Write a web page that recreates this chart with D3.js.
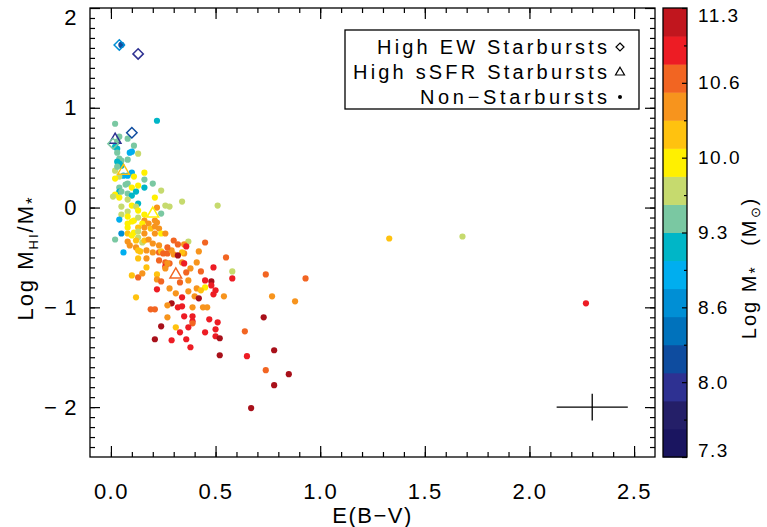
<!DOCTYPE html>
<html>
<head>
<meta charset="utf-8">
<script src="https://cdn.jsdelivr.net/npm/d3@7"></script>
<style>
  body { margin: 0; background: #fff; }
  text { font-family: "Liberation Sans", Arial, sans-serif; fill: #000; }
</style>
</head>
<body>
<div id="chart"></div>
<script>
// non-starbursts: E(B-V), log MHI/M*, log M*
var nsX = [0.05,0.22,0.02,0.03,0.04,0.08,0.11,0.02,0.03,0.09,0.10,0.13,0.03,0.04,0.05,0.03,0.08,0.04,0.05,0.02,
  0.03,0.10,0.16,0.06,0.08,0.11,0.04,0.02,0.16,0.08,0.07,0.13,0.20,0.16,0.04,0.10,0.24,0.21,0.04,0.05,
  0.08,0.12,0.10,0.02,0.04,0.01,0.08,0.13,0.10,0.05,0.12,0.13,0.08,0.05,0.24,0.26,0.16,0.04,0.08,0.11,
  0.13,0.16,0.18,0.10,0.15,0.21,0.08,0.13,0.08,0.16,0.19,0.21,0.23,0.05,0.02,0.08,0.11,0.10,0.13,0.16,
  0.13,0.15,0.16,0.18,0.21,0.24,0.26,0.08,0.09,0.12,0.20,0.23,0.30,0.06,0.12,0.13,0.14,0.17,0.20,0.23,
  0.24,0.25,0.27,0.29,0.17,0.13,0.23,0.26,0.28,0.26,0.22,0.28,0.34,0.51,0.22,0.32,0.37,0.45,0.35,0.36,
  0.27,0.35,0.34,0.30,0.42,0.32,0.27,0.34,0.35,0.41,0.55,0.49,0.38,0.43,0.36,0.26,0.17,0.58,0.58,0.13,
  0.15,0.10,0.22,0.22,0.24,0.37,0.33,0.45,0.48,0.48,0.50,0.49,0.54,0.45,0.41,0.43,0.37,0.28,0.31,0.22,
  0.12,0.40,0.34,0.42,0.29,0.27,0.32,0.34,0.39,0.44,0.46,0.19,0.21,0.27,0.35,0.39,0.39,0.39,0.47,0.51,
  0.24,0.31,0.37,0.50,0.45,0.33,0.50,0.52,0.36,0.21,0.29,0.38,0.52,0.64,0.65,0.73,0.74,0.77,0.78,0.74,
  0.78,0.85,0.88,0.93,0.67,1.33,1.68,2.27];
var nsY = [1.63,0.87,0.84,0.66,0.71,0.69,0.62,0.61,0.59,0.55,0.56,0.54,0.55,0.49,0.47,0.46,0.48,0.44,0.42,0.37,
  0.41,0.35,0.35,0.32,0.32,0.31,0.31,0.29,0.28,0.24,0.23,0.22,0.24,0.20,0.20,0.20,0.17,0.10,0.16,0.16,
  0.14,0.16,0.12,0.13,0.10,0.11,0.08,0.04,0.02,0.01,0.01,-0.03,-0.04,-0.07,-0.06,0.02,-0.07,-0.12,-0.09,-0.13,
  -0.10,-0.13,-0.16,-0.14,-0.16,-0.13,-0.16,-0.20,-0.20,-0.20,-0.21,-0.19,-0.21,-0.26,-0.32,-0.26,-0.25,-0.28,-0.24,-0.26,
  -0.30,-0.35,-0.33,-0.32,-0.26,-0.26,-0.26,-0.34,-0.38,-0.33,-0.36,-0.38,-0.33,-0.45,-0.40,-0.43,-0.44,-0.43,-0.45,-0.45,
  -0.44,-0.46,-0.46,-0.43,-0.51,-0.51,-0.53,-0.55,-0.56,-0.59,0.00,0.01,0.06,0.02,-0.15,-0.37,-0.34,-0.35,-0.37,-0.39,
  -0.40,-0.46,-0.45,-0.47,-0.44,-0.48,-0.56,-0.55,-0.56,-0.55,-0.50,-0.60,-0.61,-0.64,-0.65,-0.61,-0.60,-0.64,-0.71,-0.70,
  -0.66,-0.68,-0.67,-0.72,-0.74,-0.73,-0.75,-0.73,-0.74,-0.78,-0.83,-0.87,-0.89,-0.80,-0.81,-0.83,-0.84,-0.81,-0.86,-0.82,
  -0.90,-0.89,-0.90,-0.91,-0.96,-0.98,-1.00,-0.99,-1.00,-1.00,-1.00,-1.02,-1.02,-1.10,-1.09,-1.09,-1.14,-1.16,-1.12,-1.15,
  -1.19,-1.20,-1.20,-1.22,-1.25,-1.25,-1.29,-1.31,-1.32,-1.32,-1.33,-1.40,-1.48,-1.24,-1.49,-1.10,-0.67,-0.89,-1.43,-1.63,
  -1.78,-1.67,-0.94,-0.71,-2.01,-0.31,-0.29,-0.96];
var nsM = [8.2,9.2,9.4,9.4,9.4,9.4,9.4,9.2,9.2,8.9,8.9,9.7,9.4,9.4,9.4,9.2,9.4,9.2,9.2,9.7,
  9.4,8.9,9.9,8.9,8.9,9.9,9.7,9.9,9.4,9.4,9.4,9.9,9.4,9.2,9.4,9.9,9.7,9.9,9.2,9.4,
  9.4,9.2,9.2,9.9,9.9,9.7,9.7,9.2,9.9,9.7,9.7,9.9,9.7,9.7,9.4,9.7,9.9,8.9,9.9,9.9,
  9.7,10.4,10.4,9.9,9.9,10.4,9.9,10.2,9.9,10.4,10.2,10.4,10.4,8.7,9.4,10.2,9.9,9.9,9.7,10.4,
  9.7,9.7,10.2,10.4,10.4,9.9,10.4,10.4,10.4,10.2,10.4,10.4,10.7,8.9,10.4,10.2,10.2,10.4,10.4,10.7,
  10.2,10.7,10.7,10.4,10.4,10.2,10.7,10.7,10.7,10.9,10.4,9.7,9.7,9.7,10.4,10.7,9.7,10.7,10.4,10.9,
  10.7,10.4,10.2,10.4,10.4,11.2,10.4,10.4,10.9,10.4,10.7,10.9,10.4,10.7,10.7,10.4,10.2,9.7,10.9,10.7,
  10.4,10.2,10.2,10.4,10.7,10.4,10.7,10.9,11.2,10.9,10.9,10.9,10.4,9.9,10.4,10.2,10.4,10.4,10.4,10.9,
  10.2,10.4,10.9,11.2,11.2,10.4,10.9,10.9,10.4,10.4,10.4,10.7,10.7,10.4,10.9,10.9,10.9,10.7,10.9,10.9,
  11.2,10.2,10.9,10.9,10.9,10.9,10.9,11.2,10.9,11.2,10.9,10.9,11.2,10.7,10.9,11.2,10.7,10.4,11.2,10.7,
  11.2,11.2,10.4,10.7,11.2,10.1,9.7,10.9];

// high EW starbursts (diamonds)
var ewX = [0.04,0.13,0.10,0.01];
var ewY = [1.63,1.54,0.75,0.64];
var ewM = [8.6,7.9,8.2,9.4];

// high sSFR starbursts (triangles)
var ssX = [0.02,0.06,0.20,0.31];
var ssY = [0.68,0.37,-0.06,-0.67];
var ssM = [7.9,10.1,9.9,10.7];

// typical error bar
var errX = [2.3], errY = [-2.0], errDX = [0.17], errDY = [0.135];

var xTicks = [0, 0.5, 1.0, 1.5, 2.0, 2.5];
var yTicks = [-2, -1, 0, 1, 2];
var cbLabels = ["7.3", "8.0", "8.6", "9.3", "10.0", "10.6", "11.3"];
var legendLabels = ["High EW Starbursts", "High sSFR Starbursts", "Non\u2212Starbursts"];

// 16 colour bands, low mass to high mass
var barColors = ["#1a1560", "#241f68", "#2e3192", "#0e4c9f", "#0072bc", "#008fd5", "#00aeef", "#00b6c7",
  "#7ac8a2", "#c6da6e", "#fff000", "#ffc20f", "#f7941d", "#f26522", "#ed1c24", "#c1161e"];

var W = 767, H = 527;
var plot = {left: 90, right: 655, top: 8, bottom: 457};

var svg = d3.select("#chart").append("svg")
    .attr("width", W)
    .attr("height", H);

var x = d3.scaleLinear().domain([-0.1, 2.6]).range([plot.left, plot.right]);
var y = d3.scaleLinear().domain([-2.5, 2.0]).range([plot.bottom, plot.top]);
var cb = d3.scaleLinear().domain([7.3, 11.3]).range([plot.bottom, plot.top]);
var color = d3.scaleQuantize().domain([7.3, 11.3]).range(barColors);
var dotColor = d3.scaleQuantize().domain([7.3, 11.3])
    .range(barColors.slice(0, 15).concat(["#a8101a"]));

function clean(g) {
  g.select(".domain").remove();
  g.selectAll("line").attr("stroke", "#000").attr("stroke-width", 1.2);
  g.selectAll("text")
    .attr("font-family", "Liberation Sans, Arial, sans-serif")
    .attr("font-size", 22)
    .style("letter-spacing", "1.5px");
}

var fmtY = function(d) { return d < 0 ? "\u2212\u2009" + Math.abs(d) : String(d); };
var xMinor = x.ticks(27).filter(function(d) { return d > -0.09 && d < 2.59; });
var yMinor = y.ticks(45).filter(function(d) { return d > -2.49 && d < 1.99; });

// bottom
svg.append("g").attr("transform", "translate(0," + plot.bottom + ")")
  .call(d3.axisBottom(x).tickValues(xMinor).tickSizeInner(-5).tickSizeOuter(0).tickFormat(""))
  .call(clean);
svg.append("g").attr("transform", "translate(0," + plot.bottom + ")")
  .call(d3.axisBottom(x).tickValues(xTicks).tickSizeInner(-11).tickSizeOuter(0)
        .tickPadding(26).tickFormat(d3.format(".1f")))
  .call(clean);
// top
svg.append("g").attr("transform", "translate(0," + plot.top + ")")
  .call(d3.axisTop(x).tickValues(xMinor).tickSizeInner(-5).tickSizeOuter(0).tickFormat(""))
  .call(clean);
svg.append("g").attr("transform", "translate(0," + plot.top + ")")
  .call(d3.axisTop(x).tickValues(xTicks).tickSizeInner(-11).tickSizeOuter(0).tickFormat(""))
  .call(clean);
// left
svg.append("g").attr("transform", "translate(" + plot.left + ",0)")
  .call(d3.axisLeft(y).tickValues(yMinor).tickSizeInner(-5).tickSizeOuter(0).tickFormat(""))
  .call(clean);
var yAxis = svg.append("g").attr("transform", "translate(" + plot.left + ",0)")
  .call(d3.axisLeft(y).tickValues(yTicks).tickSizeInner(-10).tickSizeOuter(0)
        .tickPadding(12).tickFormat(fmtY))
  .call(clean);
yAxis.selectAll(".tick text").filter(function(d) { return d === 2; }).attr("dy", "0.75em");
// right
svg.append("g").attr("transform", "translate(" + plot.right + ",0)")
  .call(d3.axisRight(y).tickValues(yMinor).tickSizeInner(-5).tickSizeOuter(0).tickFormat(""))
  .call(clean);
svg.append("g").attr("transform", "translate(" + plot.right + ",0)")
  .call(d3.axisRight(y).tickValues(yTicks).tickSizeInner(-10).tickSizeOuter(0).tickFormat(""))
  .call(clean);

svg.append("rect")
    .attr("x", plot.left).attr("y", plot.top)
    .attr("width", plot.right - plot.left).attr("height", plot.bottom - plot.top)
    .attr("fill", "none").attr("stroke", "#000").attr("stroke-width", 1.3);

// axis titles
svg.append("text")
    .attr("x", (plot.left + plot.right) / 2).attr("y", 523)
    .attr("text-anchor", "middle").attr("font-size", 22)
    .style("letter-spacing", "1.5px")
    .text("E(B\u2212V)");

var yt = svg.append("text")
    .attr("transform", "translate(33,258) rotate(-90)")
    .attr("text-anchor", "middle").attr("font-size", 22)
    .style("letter-spacing", "2px");
yt.append("tspan").text("Log M");
yt.append("tspan").attr("font-size", 13).attr("dy", 5).text("HI");
yt.append("tspan").attr("dy", -5).text("/M");
yt.append("tspan").attr("font-size", 17).attr("dy", 5).text("*");

// points
var plotG = svg.append("g");
plotG.selectAll("circle.ns")
  .data(nsX.map(function(d, i) { return {x: d, y: nsY[i], m: nsM[i]}; }))
  .enter().append("circle")
    .attr("class", "ns")
    .attr("cx", function(d) { return x(d.x); })
    .attr("cy", function(d) { return y(d.y); })
    .attr("r", 3.1)
    .attr("fill", function(d) { return dotColor(d.m); });

var triPath = "M0,-6.5L5.8,3.5L-5.8,3.5Z";
var diaPath = "M0,-5.2L5.2,0L0,5.2L-5.2,0Z";

plotG.selectAll("path.ss")
  .data(ssX.map(function(d, i) { return {x: d, y: ssY[i], m: ssM[i]}; }))
  .enter().append("path")
    .attr("class", "ss")
    .attr("d", triPath)
    .attr("transform", function(d) { return "translate(" + x(d.x) + "," + y(d.y) + ")"; })
    .attr("fill", "none").attr("stroke-width", 1.5)
    .attr("stroke", function(d) { return color(d.m); });

plotG.selectAll("path.ew")
  .data(ewX.map(function(d, i) { return {x: d, y: ewY[i], m: ewM[i]}; }))
  .enter().append("path")
    .attr("class", "ew")
    .attr("d", diaPath)
    .attr("transform", function(d) { return "translate(" + x(d.x) + "," + y(d.y) + ")"; })
    .attr("fill", "none").attr("stroke-width", 1.5)
    .attr("stroke", function(d) { return color(d.m); });

// error cross
errX.forEach(function(ex, i) {
  svg.append("line")
    .attr("x1", x(ex - errDX[i])).attr("x2", x(ex + errDX[i]))
    .attr("y1", y(errY[i])).attr("y2", y(errY[i]))
    .attr("stroke", "#000").attr("stroke-width", 1.3);
  svg.append("line")
    .attr("x1", x(ex)).attr("x2", x(ex))
    .attr("y1", y(errY[i] - errDY[i])).attr("y2", y(errY[i] + errDY[i]))
    .attr("stroke", "#000").attr("stroke-width", 1.3);
});

// legend
var leg = svg.append("g");
leg.append("rect")
    .attr("x", 345).attr("y", 30).attr("width", 294).attr("height", 79)
    .attr("fill", "#fff").attr("stroke", "#000").attr("stroke-width", 1.3);
var legLen = [230, 254, 187];
legendLabels.forEach(function(t, i) {
  leg.append("text")
    .attr("x", 607).attr("y", 53.5 + i * 25.3)
    .attr("text-anchor", "end").attr("font-size", 20)
    .attr("textLength", legLen[i]).attr("lengthAdjust", "spacing")
    .text(t);
});
leg.append("path").attr("d", "M0,-4L4,0L0,4L-4,0Z")
    .attr("transform", "translate(620,47)")
    .attr("fill", "none").attr("stroke", "#000").attr("stroke-width", 1.2);
leg.append("path").attr("d", "M0,-4.8L4.5,3L-4.5,3Z")
    .attr("transform", "translate(620,72)")
    .attr("fill", "none").attr("stroke", "#000").attr("stroke-width", 1.2);
leg.append("circle").attr("cx", 620).attr("cy", 97).attr("r", 2).attr("fill", "#000");

// colour bar
var cbX = 663, cbW = 24, step = (11.3 - 7.3) / barColors.length;
var cbG = svg.append("g");
cbG.selectAll("rect.band")
  .data(barColors)
  .enter().append("rect")
    .attr("class", "band")
    .attr("x", cbX)
    .attr("y", function(d, i) { return cb(7.3 + (i + 1) * step); })
    .attr("width", cbW)
    .attr("height", function(d, i) { return cb(7.3 + i * step) - cb(7.3 + (i + 1) * step) + 0.5; })
    .attr("fill", function(d) { return d; });

var cbMajor = cbLabels.map(function(d, i) { return 7.3 + i * (11.3 - 7.3) / (cbLabels.length - 1); });
var cbMinor = cbMajor.slice(1).map(function(d, i) { return (d + cbMajor[i]) / 2; });

cbG.append("g").attr("transform", "translate(" + (cbX + cbW) + ",0)")
  .call(d3.axisLeft(cb).tickValues(cbMinor).tickSizeInner(3).tickSizeOuter(0).tickFormat(""))
  .call(clean);
cbG.append("g").attr("transform", "translate(" + (cbX + cbW) + ",0)")
  .call(d3.axisLeft(cb).tickValues(cbMajor).tickSizeInner(5).tickSizeOuter(0).tickFormat(""))
  .call(clean);
var cbAxis = cbG.append("g").attr("transform", "translate(" + (cbX + cbW) + ",0)")
  .call(d3.axisRight(cb).tickValues(cbMajor).tickSize(0).tickPadding(11)
        .tickFormat(function(d, i) { return cbLabels[i]; }))
  .call(clean);
cbAxis.selectAll("text").attr("font-size", 19).style("letter-spacing", "1.5px");
cbAxis.selectAll(".tick text").filter(function(d, i) { return i === 0; }).attr("dy", "-0.05em");
cbAxis.selectAll(".tick text").filter(function(d, i) { return i === cbLabels.length - 1; }).attr("dy", "0.7em");

cbG.append("rect")
    .attr("x", cbX).attr("y", plot.top).attr("width", cbW).attr("height", plot.bottom - plot.top)
    .attr("fill", "none").attr("stroke", "#000").attr("stroke-width", 1.3);

var ct = svg.append("text")
    .attr("transform", "translate(756,268) rotate(-90)")
    .attr("text-anchor", "middle").attr("font-size", 20)
    .style("letter-spacing", "2px");
ct.append("tspan").text("Log M");
ct.append("tspan").attr("font-size", 16).attr("dy", 5).text("*");
ct.append("tspan").attr("dy", -5).text("\u2002 (M");
ct.append("tspan").attr("font-size", 13).attr("dy", 4).text("\u2299");
ct.append("tspan").attr("dy", -4).text(")");
</script>
</body>
</html>
